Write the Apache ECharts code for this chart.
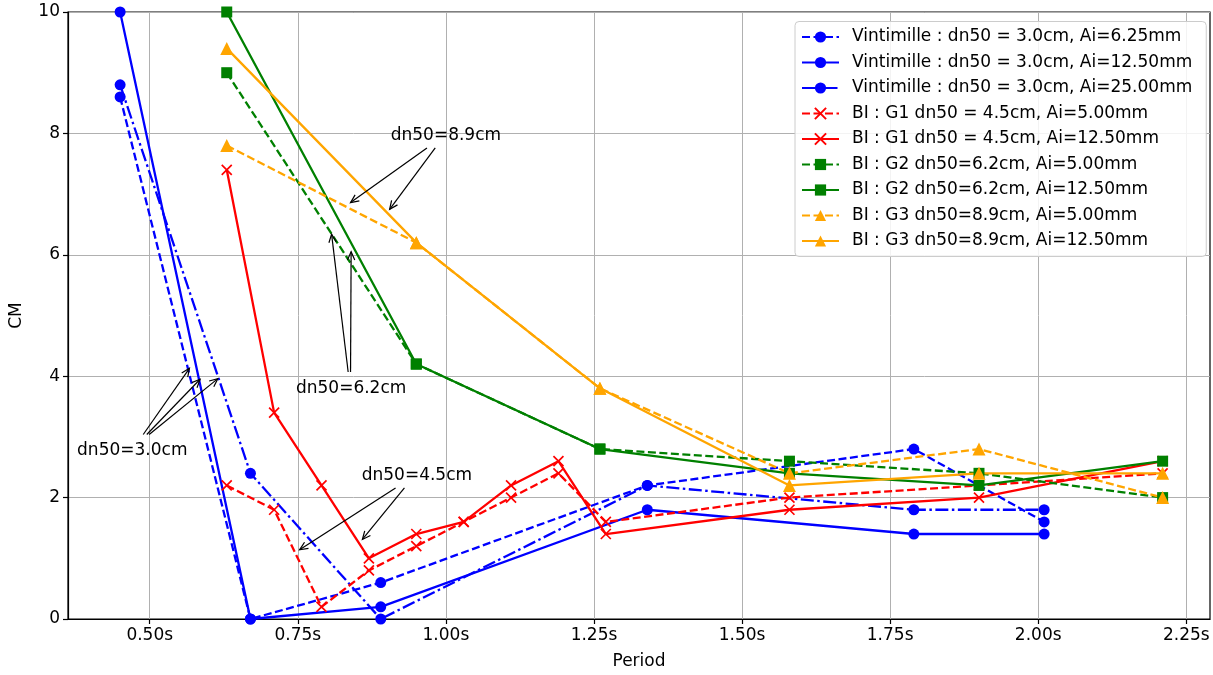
<!DOCTYPE html>
<html>
<head>
<meta charset="utf-8">
<script src="https://cdn.jsdelivr.net/npm/echarts@6/dist/echarts.min.js"></script>
<style>
html,body{margin:0;padding:0;background:#fff;}
#main{width:1213px;height:675px;}
</style>
</head>
<body>
<div id="main"></div>
<script>
// ---- data ----
const vintPeriod = [0.45, 0.67, 0.89, 1.34, 1.79, 2.01];
const vint625 = [8.6, 0, 0.6, 2.2, 2.8, 1.6];
const vint1250 = [10, 0, 0.2, 1.8, 1.4, 1.4];
const vint2500 = [8.8, 2.4, 0, 2.2, 1.8, 1.8];

const g1Period = [0.63, 0.71, 0.79, 0.87, 0.95, 1.03, 1.11, 1.19, 1.27, 1.58, 1.90, 2.21];
const g1_500 = [2.2, 1.8, 0.2, 0.8, 1.2, 1.6, 2.0, 2.4, 1.6, 2.0, 2.2, 2.4];
const g1_1250 = [7.4, 3.4, 2.2, 1.0, 1.4, 1.6, 2.2, 2.6, 1.4, 1.8, 2.0, 2.6];

const g23Period = [0.63, 0.95, 1.26, 1.58, 1.90, 2.21];
const g2_500 = [9.0, 4.2, 2.8, 2.6, 2.4, 2.0];
const g2_1250 = [10, 4.2, 2.8, 2.4, 2.2, 2.6];
const g3_500 = [7.8, 6.2, 3.8, 2.4, 2.8, 2.0];
const g3_1250 = [9.4, 6.2, 3.8, 2.2, 2.4, 2.4];

const seriesNames = [
  'Vintimille : dn50 = 3.0cm, Ai=6.25mm',
  'Vintimille : dn50 = 3.0cm, Ai=12.50mm',
  'Vintimille : dn50 = 3.0cm, Ai=25.00mm',
  'BI : G1 dn50 = 4.5cm, Ai=5.00mm',
  'BI : G1 dn50 = 4.5cm, Ai=12.50mm',
  'BI : G2 dn50=6.2cm, Ai=5.00mm',
  'BI : G2 dn50=6.2cm, Ai=12.50mm',
  'BI : G3 dn50=8.9cm, Ai=5.00mm',
  'BI : G3 dn50=8.9cm, Ai=12.50mm'
];

const xTicks = [0.5, 0.75, 1.0, 1.25, 1.5, 1.75, 2.0, 2.25];

// annotations (data coordinates)
const annoText = ['dn50=8.9cm', 'dn50=6.2cm', 'dn50=3.0cm', 'dn50=4.5cm'];
const annoTextX = [1.0, 0.840, 0.4705, 0.951];
const annoTextY = [7.97, 3.79, 2.78, 2.37];
// arrows: [fromX, fromY, toX, toY]
const annoArrows = [
  [0.968, 7.76, 0.839, 6.86],
  [0.982, 7.76, 0.905, 6.75],
  [0.835, 4.07, 0.807, 6.34],
  [0.839, 4.07, 0.840, 6.05],
  [0.489, 3.04, 0.567, 4.13],
  [0.495, 3.04, 0.585, 3.95],
  [0.499, 3.04, 0.615, 3.96],
  [0.915, 2.16, 0.753, 1.14],
  [0.930, 2.16, 0.859, 1.31]
];

// ---- chart ----
const FONT = 'DejaVu Sans';
const dashed = [8, 3.5];
const dashDot = [13, 3.5, 2.5, 3.5];
const xPath = 'path://M0,0L10,10M10,0L0,10';

function mk(name, xs, ys, color, type, symbol, size) {
  const isX = symbol === xPath;
  return {
    name: name,
    type: 'line',
    data: xs.map((x, i) => [x, ys[i]]),
    symbol: symbol,
    symbolSize: size,
    showSymbol: true,
    clip: true,
    lineStyle: {color: color, width: 2.3, type: type},
    itemStyle: isX ? {color: color, borderColor: color, borderWidth: 1.7} : {color: color, borderWidth: 0},
    emphasis: {disabled: true},
    animation: false
  };
}

const chart = echarts.init(document.getElementById('main'), null, {renderer: 'canvas'});

const series = [
  mk(seriesNames[0], vintPeriod, vint625, '#0000ff', dashed, 'circle', 11),
  mk(seriesNames[1], vintPeriod, vint1250, '#0000ff', 'solid', 'circle', 11),
  mk(seriesNames[2], vintPeriod, vint2500, '#0000ff', dashDot, 'circle', 11),
  mk(seriesNames[3], g1Period, g1_500, '#ff0000', dashed, xPath, 10),
  mk(seriesNames[4], g1Period, g1_1250, '#ff0000', 'solid', xPath, 10),
  mk(seriesNames[5], g23Period, g2_500, '#008000', dashed, 'rect', 11),
  mk(seriesNames[6], g23Period, g2_1250, '#008000', 'solid', 'rect', 11),
  mk(seriesNames[7], g23Period, g3_500, '#ffa500', dashed, 'triangle', 13),
  mk(seriesNames[8], g23Period, g3_1250, '#ffa500', 'solid', 'triangle', 13),
  {
    type: 'custom',
    silent: true,
    clip: false,
    z: 5,
    animation: false,
    encode: {x: [0, 2], y: [1, 3]},
    data: annoArrows,
    renderItem: function (params, api) {
      const p1 = api.coord([api.value(0), api.value(1)]);
      const p2 = api.coord([api.value(2), api.value(3)]);
      const ang = Math.atan2(p2[1] - p1[1], p2[0] - p1[0]);
      const L = 9, a = 0.42;
      const h1 = [p2[0] - L * Math.cos(ang - a), p2[1] - L * Math.sin(ang - a)];
      const h2 = [p2[0] - L * Math.cos(ang + a), p2[1] - L * Math.sin(ang + a)];
      return {
        type: 'group',
        children: [
          {type: 'line', shape: {x1: p1[0], y1: p1[1], x2: p2[0], y2: p2[1]}, style: {stroke: '#000', lineWidth: 1.2}},
          {type: 'polyline', shape: {points: [h1, p2, h2]}, style: {stroke: '#000', fill: null, lineWidth: 1.2}}
        ]
      };
    }
  },
  {
    type: 'custom',
    silent: true,
    clip: false,
    z: 5,
    animation: false,
    encode: {x: 0, y: 1},
    data: annoTextX.map((x, i) => [x, annoTextY[i]]),
    renderItem: function (params, api) {
      const p = api.coord([api.value(0), api.value(1)]);
      return {
        type: 'text',
        x: p[0], y: p[1],
        style: {
          text: annoText[params.dataIndex],
          align: 'center', verticalAlign: 'middle',
          fontFamily: FONT, fontSize: 17, fill: '#000'
        }
      };
    }
  }
];

chart.setOption({
  backgroundColor: '#ffffff',
  animation: false,
  textStyle: {fontFamily: FONT},
  grid: {
    left: 66.7, right: 3, top: 12, bottom: 54,
    show: true, borderColor: '#000', borderWidth: 1.2, backgroundColor: 'transparent'
  },
  legend: {
    data: seriesNames,
    orient: 'vertical',
    left: 795, top: 21.5,
    padding: [7, 14, 7, 6],
    itemWidth: 37, itemHeight: 14, itemGap: 8.5,
    backgroundColor: 'rgba(255,255,255,0.85)',
    borderColor: '#cccccc', borderWidth: 1, borderRadius: 4,
    textStyle: {fontFamily: FONT, fontSize: 17, color: '#000', lineHeight: 17, padding: [0, 0, 0, 8]},
    selectedMode: false
  },
  xAxis: {
    type: 'value',
    min: 0.362, max: 2.29,
    name: 'Period',
    nameLocation: 'middle',
    nameGap: 34,
    nameTextStyle: {fontFamily: FONT, fontSize: 17, color: '#000'},
    axisLine: {show: true, onZero: false, lineStyle: {color: '#000', width: 1.2}},
    axisTick: {show: true, length: 5, lineStyle: {color: '#000', width: 1.2}, customValues: xTicks},
    axisLabel: {
      fontFamily: FONT, fontSize: 17, color: '#000', margin: 8,
      customValues: xTicks,
      formatter: v => v.toFixed(2) + 's'
    },
    splitLine: {show: true, lineStyle: {color: '#b0b0b0', width: 1}}
  },
  yAxis: {
    type: 'value',
    min: 0, max: 10, interval: 2,
    name: 'CM',
    nameLocation: 'middle',
    nameGap: 43,
    nameRotate: 90,
    nameTextStyle: {fontFamily: FONT, fontSize: 17, color: '#000'},
    axisLine: {show: true, onZero: false, lineStyle: {color: '#000', width: 1.2}},
    axisTick: {show: true, length: 5, lineStyle: {color: '#000', width: 1.2}},
    axisLabel: {fontFamily: FONT, fontSize: 17, color: '#000', margin: 8},
    splitLine: {show: true, lineStyle: {color: '#b0b0b0', width: 1}}
  },
  series: series
});
</script>
</body>
</html>
